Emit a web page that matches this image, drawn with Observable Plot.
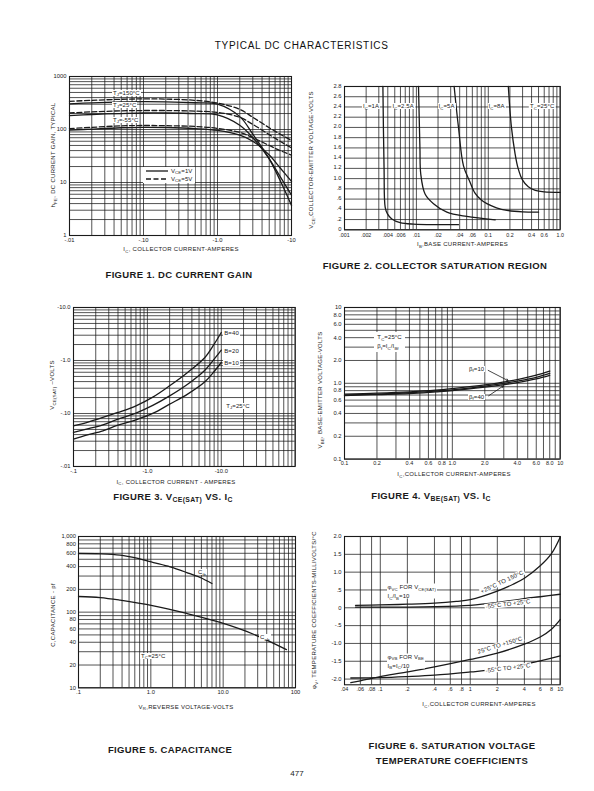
<!DOCTYPE html>
<html><head><meta charset="utf-8">
<script src="https://cdn.jsdelivr.net/npm/d3@7"></script>
<script src="https://cdn.jsdelivr.net/npm/@observablehq/plot@0.6"></script>
<style>
body{margin:0;background:#fff;}
#page{position:relative;width:594px;height:791px;overflow:hidden;font-family:"Liberation Sans",Arial,Helvetica,sans-serif;color:#1a1a1a;background:#fff;}
.t{position:absolute;white-space:nowrap;line-height:1;}
.c{transform:translate(-50%,-50%);}
.cap{font-weight:bold;font-size:9.5px;letter-spacing:0.35px;}
.ax{font-size:6px;letter-spacing:0.3px;}
.lb{font-size:6px;letter-spacing:0.1px;}
.bg{background:#fff;padding:0 1px;}
sub{font-size:72%;vertical-align:baseline;position:relative;top:0.35em;line-height:0;}
</style></head>
<body><div id="page"></div>
<script>
// ---------------- DATA ----------------
// Figure 1: DC current gain (hFE vs Ic)
const f1_ic      = [0.01, 0.02, 0.05, 0.1, 0.2, 0.5, 1.0, 2.0, 3.0, 5.0, 7.0, 10];
const f1_150_5V  = [340, 355, 372, 378, 375, 355, 315, 240, 170, 108, 82, 62];
const f1_150_1V  = [305, 318, 330, 335, 332, 320, 300, 175, 82, 28, 11, 3.7];
const f1_25_5V   = [205, 215, 225, 228, 228, 222, 210, 170, 125, 80, 60, 45];
const f1_25_1V   = [183, 192, 200, 205, 205, 200, 188, 120, 70, 28, 13, 5.8];
const f1_m55_5V  = [104, 110, 117, 119, 118, 114, 105, 88, 70, 50, 40, 33];
const f1_m55_1V  = [97, 102, 108, 110, 109, 104, 96, 78, 60, 33, 19, 10.5];
const f1_xticks = [0.01, 0.1, 1, 10], f1_xlabels = ["-.01", "-.10", "-1.0", "-10"];
const f1_yticks = [1, 10, 100, 1000], f1_ylabels = ["1", "10", "100", "1000"];

// Figure 2: collector saturation region (Vce vs Ib)
const f2_1A_ib   = [0.00342, 0.00355, 0.00368, 0.00396, 0.00455, 0.00594, 0.0091, 0.02, 0.0385];
const f2_1A_v    = [2.8, 1.2, 0.44, 0.31, 0.21, 0.14, 0.11, 0.1, 0.1];
const f2_25A_ib  = [0.0107, 0.0112, 0.0115, 0.0132, 0.0173, 0.0265, 0.050, 0.125];
const f2_25A_v   = [2.8, 1.6, 1.09, 0.70, 0.51, 0.345, 0.26, 0.195];
const f2_5A_ib   = [0.0335, 0.0385, 0.0452, 0.055, 0.065, 0.08, 0.0955, 0.13, 0.181, 0.3, 0.5];
const f2_5A_v    = [2.8, 2.0, 1.25, 0.95, 0.72, 0.58, 0.51, 0.43, 0.38, 0.35, 0.345];
const f2_8A_ib   = [0.19, 0.21, 0.235, 0.26, 0.3, 0.36, 0.45, 0.6, 1.0];
const f2_8A_v    = [2.8, 2.0, 1.5, 1.2, 0.97, 0.84, 0.77, 0.74, 0.73];
const f2_xticks = [0.001, 0.002, 0.004, 0.006, 0.01, 0.02, 0.04, 0.06, 0.1, 0.2, 0.4, 0.6, 1.0];
const f2_xlabels = [".001", ".002", ".004", ".006", ".01", ".02", ".04", ".06", "0.1", "0.2", "0.4", "0.6", "1.0"];
const f2_yticks = [0, 0.2, 0.4, 0.6, 0.8, 1.0, 1.2, 1.4, 1.6, 1.8, 2.0, 2.2, 2.4, 2.6, 2.8];
const f2_ylabels = ["0", ".2", ".4", ".6", ".8", "1.0", "1.2", "1.4", "1.6", "1.8", "2.0", "2.2", "2.4", "2.6", "2.8"];
const f2_labels = ["I<sub>C</sub>=1A", "I<sub>C</sub>=2.5A", "I<sub>C</sub>=5A", "I<sub>C</sub>=8A", "T<sub>C</sub>=25°C"];
const f2_labelX = [0.00235, 0.00659, 0.0264, 0.131, 0.566];

// Figure 3: Vce(sat) vs Ic
const f3_ic  = [0.1, 0.15, 0.25, 0.4, 0.7, 1.2, 2.0, 3.5, 6.0, 8.0, 10];
const f3_b40 = [0.0585, 0.0676, 0.0841, 0.1045, 0.1397, 0.206, 0.333, 0.594, 1.14, 2.03, 3.37];
const f3_b20 = [0.0438, 0.0506, 0.0611, 0.0781, 0.1015, 0.1436, 0.215, 0.357, 0.657, 1.06, 1.57];
const f3_b10 = [0.0328, 0.039, 0.0471, 0.0603, 0.076, 0.1015, 0.150, 0.232, 0.396, 0.62, 0.917];
const f3_xticks = [0.1, 1, 10], f3_xlabels = ["-.1", "-1.0", "-10.0"];
const f3_yticks = [0.01, 0.1, 1, 10], f3_ylabels = ["-.01", "-.10", "-1.0", "-10.0"];

// Figure 4: Vbe(sat) vs Ic
const f4_ic  = [0.1, 0.2, 0.4, 0.7, 1.0, 2.0, 3.0, 4.0, 6.0, 8.0];
const f4_b10 = [0.72, 0.74, 0.77, 0.81, 0.85, 0.95, 1.04, 1.12, 1.28, 1.45];
const f4_b20 = [0.70, 0.72, 0.75, 0.79, 0.82, 0.92, 1.00, 1.07, 1.20, 1.35];
const f4_b40 = [0.69, 0.71, 0.73, 0.77, 0.80, 0.89, 0.96, 1.02, 1.14, 1.27];
const f4_arrows = [{x1: 2.15, y1: 1.48, x2: 3.3, y2: 1.08}, {x1: 2.17, y1: 0.684, x2: 2.98, y2: 0.926}];
const f4_ticks = [0.1, 0.2, 0.4, 0.6, 0.8, 1.0, 2.0, 4.0, 6.0, 8.0, 10];
const f4_labels = ["0.1", "0.2", "0.4", "0.6", "0.8", "1.0", "2.0", "4.0", "6.0", "8.0", "10"];

// Figure 5: capacitance
const f5_cib_v = [0.1, 0.2, 0.377, 0.64, 1.09, 1.85, 3.14, 4.81, 7.0];
const f5_cib   = [596, 590, 567, 517, 453, 397, 334, 287, 239];
const f5_cob_v = [0.1, 0.2, 0.377, 1.09, 3.14, 9.1, 26.3, 75];
const f5_cob   = [161, 156, 144, 121, 96, 73, 51, 32];
const f5_xticks = [0.1, 1, 10, 100], f5_xlabels = [".1", "1.0", "10.0", "100"];
const f5_yticks = [10, 20, 40, 60, 80, 100, 200, 400, 600, 800, 1000];
const f5_ylabels = ["10", "20", "40", "60", "80", "100", "200", "400", "600", "800", "1,000"];

// Figure 6: saturation voltage temperature coefficients
const f6_vc_hi_ic = [0.053, 0.1, 0.2, 0.4, 0.7, 1.0, 2.0, 3.0, 4.0, 6.0, 8.0, 10];
const f6_vc_hi    = [0.07, 0.08, 0.1, 0.13, 0.18, 0.23, 0.47, 0.66, 0.83, 1.18, 1.52, 1.98];
const f6_vc_lo_ic = [0.053, 0.1, 0.2, 0.4, 1.0, 2.0, 4.0, 6.0, 10];
const f6_vc_lo    = [0.02, 0.02, 0.02, 0.03, 0.07, 0.15, 0.26, 0.31, 0.38];
const f6_vb_hi_ic = [0.047, 0.06, 0.08, 0.1, 0.2, 0.4, 1.0, 2.0, 4.0, 6.0, 8.0, 10];
const f6_vb_hi    = [-2.1, -2.05, -1.98, -1.93, -1.80, -1.66, -1.45, -1.27, -1.02, -0.82, -0.6, -0.33];
const f6_vb_lo_ic = [0.047, 0.1, 0.2, 0.4, 1.0, 2.0, 4.0, 6.0, 10];
const f6_vb_lo    = [-1.97, -1.96, -1.93, -1.89, -1.8, -1.72, -1.58, -1.49, -1.35];
const f6_xticks = [0.04, 0.06, 0.08, 0.1, 0.2, 0.4, 0.6, 0.8, 1, 2, 4, 6, 8, 10];
const f6_xlabels = [".04", ".06", ".08", ".1", ".2", ".4", ".6", ".8", "1", "2", "4", "6", "8", "10"];
const f6_yticks = [-2.0, -1.5, -1.0, -0.5, 0, 0.5, 1.0, 1.5, 2.0];
const f6_ylabels = ["-2.0", "-1.5", "-1.0", "-.5", "0", ".5", "1.0", "1.5", "2.0"];

// ---------------- DRAWING ----------------
const page = document.getElementById("page");
const INK = "#1a1a1a";
const FONT = '"Liberation Sans", Arial, Helvetica, sans-serif';
const zip = (xs, ys) => xs.map((x, i) => ({x, y: ys[i]}));

function logGrid(lo, hi) {
  const out = [];
  for (let e = Math.floor(Math.log10(lo)) - 1; e <= Math.ceil(Math.log10(hi)); e++)
    for (let m = 1; m <= 9; m++) {
      const v = +(m * Math.pow(10, e)).toPrecision(6);
      if (v >= lo * 0.9999 && v <= hi * 1.0001) out.push(v);
    }
  return out;
}

function chart(o) {
  const mL = 44, mR = 10, mT = 10, mB = 18;
  const w = o.x1 - o.x0, h = o.y1 - o.y0;
  const xmap = new Map(o.xt.map((v, i) => [v, o.xl[i]]));
  const ymap = new Map(o.yt.map((v, i) => [v, o.yl[i]]));
  const svg = Plot.plot({
    width: w + mL + mR, height: h + mT + mB,
    marginLeft: mL, marginRight: mR, marginTop: mT, marginBottom: mB,
    style: {fontFamily: FONT, fontSize: "5.8px", background: "transparent", color: INK, overflow: "visible"},
    x: {type: o.xtype, domain: o.xd, axis: null},
    y: {type: o.ytype, domain: o.yd, axis: null},
    marks: [
      Plot.ruleX(o.xg, {stroke: INK, strokeWidth: 0.75}),
      Plot.ruleY(o.yg, {stroke: INK, strokeWidth: 0.75}),
      ...o.marks,
      Plot.frame({stroke: INK, strokeWidth: 1.1}),
      Plot.text(o.xt, {x: d => d, frameAnchor: "bottom", lineAnchor: "top", dy: o.xdy ?? 2.5, text: d => xmap.get(d), fill: INK, fontSize: o.xfs ?? 5.8}),
      Plot.text(o.yt, {y: d => d, frameAnchor: "left", textAnchor: "end", dx: o.ydx ?? -3, dy: o.ydy ?? 0, text: d => ymap.get(d), fill: INK, fontSize: o.yfs ?? 5.8})
    ]
  });
  Object.assign(svg.style, {position: "absolute", left: (o.x0 - mL) + "px", top: (o.y0 - mT) + "px"});
  page.appendChild(svg);
  return {left: o.x0 - mL, top: o.y0 - mT, sx: svg.scale("x"), sy: svg.scale("y")};
}

function text(html, x, y, cls, extra) {
  const d = document.createElement("div");
  d.className = "t " + (cls || "");
  d.innerHTML = html;
  d.style.left = x + "px";
  d.style.top = y + "px";
  if (extra) Object.assign(d.style, extra);
  page.appendChild(d);
  return d;
}
// label in data coordinates of chart c
function lab(c, xv, yv, html, opt = {}) {
  const px = c.left + c.sx.apply(xv), py = c.top + c.sy.apply(yv);
  const ax = opt.align === "center" ? "-50%" : "0";
  const rot = opt.rot ? ` rotate(${opt.rot}deg)` : "";
  return text(html, px, py, "lb" + (opt.bg ? " bg" : ""), {transform: `translate(${ax},-50%)${rot}`, transformOrigin: "center"});
}
const line = (xs, ys, dash) => Plot.line(zip(xs, ys), {x: "x", y: "y", stroke: INK, strokeWidth: 1.3, curve: "catmull-rom", strokeDasharray: dash ? "5,2.5" : null});

// Page title & number
text("TYPICAL DC CHARACTERISTICS", 301.7, 46, "c", {fontSize: "10px", letterSpacing: "0.7px", fontWeight: "500", color: "#111"});
text("477", 297, 774, "c", {fontSize: "8px"});

// ---- Figure 1 ----
const c1 = chart({x0: 69, x1: 291, y0: 76, y1: 235, xtype: "log", ytype: "log", xd: [0.01, 10], yd: [1, 1000],
  xg: logGrid(0.01, 10), yg: logGrid(1, 1000), xt: f1_xticks, xl: f1_xlabels, yt: f1_yticks, yl: f1_ylabels,
  marks: [line(f1_ic, f1_150_5V, true), line(f1_ic, f1_150_1V), line(f1_ic, f1_25_5V, true), line(f1_ic, f1_25_1V),
          line(f1_ic, f1_m55_5V, true), line(f1_ic, f1_m55_1V)]});
lab(c1, 0.038, 484, "T<sub>J</sub>=150°C", {bg: true});
lab(c1, 0.038, 284, "T<sub>J</sub>=25°C", {bg: true});
lab(c1, 0.038, 148, "T<sub>J</sub>=-55°C", {bg: true});
{
  const lx = c1.left + c1.sx.apply(0.1), ly = c1.top + c1.sy.apply(19.2);
  text(`<div style="display:flex;align-items:center;height:8px"><svg width="24" height="4"><line x1="1" y1="2" x2="23" y2="2" stroke="${INK}" stroke-width="1.3"/></svg><span style="margin-left:2px">V<sub>CE</sub>=1V</span></div>
  <div style="display:flex;align-items:center;height:8px"><svg width="24" height="4"><line x1="1" y1="2" x2="23" y2="2" stroke="${INK}" stroke-width="1.3" stroke-dasharray="5,2.5"/></svg><span style="margin-left:2px">V<sub>CE</sub>=5V</span></div>`,
  lx, ly, "lb", {background: "#fff", padding: "0 2px", width: "48px"});
}
text("I<sub>C</sub>, COLLECTOR CURRENT-AMPERES", 181, 249.3, "c ax");
text("h<sub>FE</sub>, DC CURRENT GAIN, TYPICAL", 53.3, 155, "ax", {transform: "translate(-50%,-50%) rotate(-90deg)"});
text("FIGURE 1. DC CURRENT GAIN", 179, 275, "c cap");

// ---- Figure 2 ----
const c2 = chart({x0: 344.3, x1: 560, y0: 86, y1: 229.3, xtype: "log", ytype: "linear", xd: [0.001, 1], yd: [0, 2.8],
  xg: logGrid(0.001, 1), yg: f2_yticks, xt: f2_xticks, xl: f2_xlabels, yt: f2_yticks, yl: f2_ylabels, xfs: 5.3, xdy: 3.4, ydy: -0.8,
  marks: [line(f2_1A_ib, f2_1A_v), line(f2_25A_ib, f2_25A_v), line(f2_5A_ib, f2_5A_v), line(f2_8A_ib, f2_8A_v)]});
f2_labels.forEach((s, i) => lab(c2, f2_labelX[i], 2.4, s, {bg: true, align: "center"}));
text("I<sub>B</sub>,BASE CURRENT-AMPERES", 462.5, 244.3, "c ax");
text("V<sub>CE</sub>,COLLECTOR-EMITTER VOLTAGE-VOLTS", 310.7, 160, "ax", {transform: "translate(-50%,-50%) rotate(-90deg)"});
text("FIGURE 2. COLLECTOR SATURATION REGION", 435, 266, "c cap");

// ---- Figure 3 ----
const c3 = chart({x0: 73.3, x1: 295, y0: 306.7, y1: 465.7, xtype: "log", ytype: "log", xd: [0.1, 100], yd: [0.01, 10],
  xg: logGrid(0.1, 100), yg: logGrid(0.01, 10), xt: f3_xticks, xl: f3_xlabels, yt: f3_yticks, yl: f3_ylabels,
  marks: [line(f3_ic, f3_b40), line(f3_ic, f3_b20), line(f3_ic, f3_b10)]});
lab(c3, 10.7, 3.23, "B=40", {bg: true});
lab(c3, 10.7, 1.48, "B=20", {bg: true});
lab(c3, 10.7, 0.867, "B=10", {bg: true});
lab(c3, 11.4, 0.134, "T<sub>J</sub>=25°C", {bg: true});
text("I<sub>C</sub>, COLLECTOR CURRENT - AMPERES", 176, 481.7, "c ax");
text("V<sub>CE(SAT)</sub> –VOLTS", 51.7, 385, "ax", {transform: "translate(-50%,-50%) rotate(-90deg)"});
text("FIGURE 3. V<sub>CE(SAT)</sub> VS. I<sub>C</sub>", 173, 496.7, "c cap");

// ---- Figure 4 ----
const c4 = chart({x0: 344.3, x1: 560, y0: 306.7, y1: 458.3, xtype: "log", ytype: "log", xd: [0.1, 10], yd: [0.1, 10],
  xg: logGrid(0.1, 10), yg: logGrid(0.1, 10), xt: f4_ticks, xl: f4_labels, yt: f4_ticks, yl: f4_labels, xfs: 5.5,
  marks: [line(f4_ic, f4_b10), line(f4_ic, f4_b20), line(f4_ic, f4_b40),
          Plot.arrow(f4_arrows, {x1: "x1", y1: "y1", x2: "x2", y2: "y2", stroke: INK, strokeWidth: 0.8, headLength: 4})]});
{
  const bx = c4.left + c4.sx.apply(0.19), by = c4.top + c4.sy.apply(4.6);
  text(`T<sub>C</sub>=25°C<br><span style="display:inline-block;margin-top:3px">β<sub>f</sub>=I<sub>C</sub>/I<sub>Bf</sub></span>`, bx, by, "lb", {background: "#fff", padding: "2px 3px 3px 3px", lineHeight: "1"});
}
lab(c4, 1.40, 1.51, "β<sub>f</sub>=10", {bg: true});
lab(c4, 1.40, 0.65, "β<sub>f</sub>=40", {bg: true});
text("I<sub>C</sub>,COLLECTOR CURRENT-AMPERES", 454, 474.3, "c ax");
text("V<sub>BE</sub>, BASE-EMITTER VOLTAGE-VOLTS", 320, 390, "ax", {transform: "translate(-50%,-50%) rotate(-90deg)"});
text("FIGURE 4. V<sub>BE(SAT)</sub> VS. I<sub>C</sub>", 431, 496, "c cap");

// ---- Figure 5 ----
const c5 = chart({x0: 78.3, x1: 295.3, y0: 535.7, y1: 687, xtype: "log", ytype: "log", xd: [0.1, 100], yd: [10, 1000],
  xg: logGrid(0.1, 100), yg: logGrid(10, 1000), xt: f5_xticks, xl: f5_xlabels, yt: f5_yticks, yl: f5_ylabels, ydx: -2.5,
  marks: [line(f5_cib_v, f5_cib), line(f5_cob_v, f5_cob)]});
lab(c5, 4.38, 330, "C<sub>ib</sub>", {bg: true});
lab(c5, 31.6, 45.8, "C<sub>ob</sub>", {bg: true});
lab(c5, 0.713, 25.7, "T<sub>C</sub>=25°C", {bg: true});
text("V<sub>R</sub>,REVERSE VOLTAGE-VOLTS", 186, 706.7, "c ax");
text("C,CAPACITANCE - pf", 53.3, 615, "ax", {transform: "translate(-50%,-50%) rotate(-90deg)"});
text("FIGURE 5. CAPACITANCE", 170, 750, "c cap");

// ---- Figure 6 ----
const c6 = chart({x0: 344.3, x1: 560, y0: 535.7, y1: 684, xtype: "log", ytype: "linear", xd: [0.04, 10], yd: [-2.16, 2.0],
  xg: f6_xticks, yg: f6_yticks, xt: f6_xticks, xl: f6_xlabels, yt: f6_yticks, yl: f6_ylabels, xfs: 5.5,
  marks: [line(f6_vc_hi_ic, f6_vc_hi), line(f6_vc_lo_ic, f6_vc_lo), line(f6_vb_hi_ic, f6_vb_hi), line(f6_vb_lo_ic, f6_vb_lo)]});
lab(c6, 0.118, 0.44, `φ<sub>VC</sub> FOR V<sub>CE(SAT)</sub><br><span style="display:inline-block;margin-top:3px">I<sub>C</sub>/I<sub>B</sub>=10</span>`, {bg: true});
lab(c6, 0.118, -1.51, `φ<sub>VB</sub> FOR V<sub>BE</sub><br><span style="display:inline-block;margin-top:3px">I<sub>B</sub>=I<sub>C</sub>/10</span>`, {bg: true});
lab(c6, 2.24, 0.71, "+25°C TO 150°C", {bg: true, align: "center", rot: -25});
lab(c6, 2.64, 0.09, "-55°C TO +25°C", {bg: true, align: "center", rot: -7});
lab(c6, 2.15, -1.06, "25°C TO +150°C", {bg: true, align: "center", rot: -17});
lab(c6, 2.64, -1.72, "-55°C TO +25°C", {bg: true, align: "center", rot: -7});
text("I<sub>C</sub>,COLLECTOR CURRENT-AMPERES", 479, 704.3, "c ax");
text("φ<sub>V</sub>, TEMPERATURE COEFFICIENTS-MILLIVOLTS/°C", 314.3, 610, "ax", {transform: "translate(-50%,-50%) rotate(-90deg)"});
text("FIGURE 6. SATURATION VOLTAGE", 452, 746, "c cap");
text("TEMPERATURE COEFFICIENTS", 452, 761, "c cap");
</script>
</body></html>
